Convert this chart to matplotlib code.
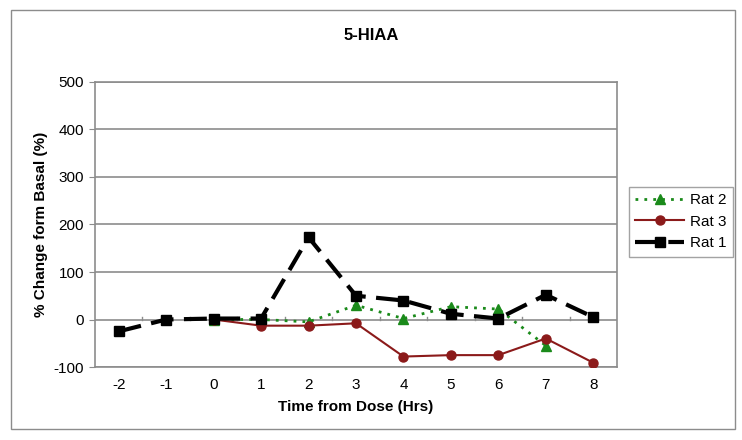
import matplotlib
matplotlib.use("Agg")
import matplotlib.pyplot as plt
from matplotlib.patches import Rectangle

plt.rcParams['font.family'] = ['Liberation Sans', 'DejaVu Sans']

hours = [-2, -1, 0, 1, 2, 3, 4, 5, 6, 7, 8]
rat1_x = [-2, -1, 0, 1, 2, 3, 4, 5, 6, 7, 8]
rat1 = [-25, 0, 2, 2, 173, 50, 40, 12, 2, 52, 5]
rat2_x = [0, 1, 2, 3, 4, 5, 6, 7]
rat2 = [0, 0, -5, 30, 2, 27, 22, -55]
rat3_x = [0, 1, 2, 3, 4, 5, 6, 7, 8]
rat3 = [0, -13, -13, -8, -78, -75, -75, -40, -91]
yticks = [-100, 0, 100, 200, 300, 400, 500]

W, H = 742, 440
fig = plt.figure(figsize=(W / 100, H / 100), dpi=100)
ax = fig.add_axes([95 / W, 1 - 367 / H, (617 - 95) / W, (367 - 82) / H])

# outer chart border
fig.patches.append(Rectangle((11 / W, 1 - 429 / H), (735 - 11) / W, (429 - 10) / H,
                             transform=fig.transFigure, fill=False,
                             edgecolor='#8c8c8c', linewidth=1.0))

for y in yticks:
    ax.axhline(y, color='#8c8c8c', linewidth=1.2, zorder=1)

ax.plot(rat2_x, rat2, linestyle=(0, (1, 2.2)), color='#1a8a1a', linewidth=2,
        marker='^', markersize=7, markerfacecolor='#1a8a1a', markeredgecolor='#1a8a1a',
        label='Rat 2', zorder=3)
ax.plot(rat3_x, rat3, linestyle='-', color='#8b1a1a', linewidth=1.5,
        marker='o', markersize=6.5, markerfacecolor='#8b1a1a', markeredgecolor='#8b1a1a',
        label='Rat 3', zorder=3)
ax.plot(rat1_x, rat1, linestyle=(0, (5.5, 2.5)), color='black', linewidth=3,
        marker='s', markersize=6.5, markerfacecolor='black', markeredgecolor='black',
        label='Rat 1', zorder=4)

ax.set_xlim(-2.5, 8.5)
ax.set_ylim(-100, 500)
ax.set_yticks(yticks)
ax.set_yticklabels([str(v) for v in yticks], fontsize=11)
ax.set_xticks(hours)
ax.set_xticklabels([str(v) for v in hours], fontsize=11)
ax.tick_params(axis='x', length=0, pad=8)
ax.tick_params(axis='y', length=4, color='#8c8c8c', pad=4)

# category boundary ticks on the zero line
for b in [h + 0.5 for h in hours[:-1]]:
    ax.plot([b, b], [0, 6], color='#8c8c8c', linewidth=1, zorder=1)

for s in ax.spines.values():
    s.set_color('#8c8c8c')
    s.set_linewidth(1.2)

ax.set_xlabel('Time from Dose (Hrs)', fontsize=11, fontweight='bold', labelpad=6)
ax.set_ylabel('% Change form Basal (%)', fontsize=11, fontweight='bold', labelpad=4)
fig.text(371 / W, 1 - 35 / H, '5-HIAA', fontsize=12, fontweight='bold',
         ha='center', va='center')

leg = ax.legend(loc='upper left', bbox_to_anchor=(629 / W, 1 - 187 / H),
                bbox_transform=fig.transFigure, fontsize=11, frameon=True,
                fancybox=False, edgecolor='#8c8c8c', handlelength=3.2,
                borderpad=0.4, labelspacing=0.5, handletextpad=0.4, borderaxespad=0)
leg.get_frame().set_linewidth(1.0)

fig.savefig('out.png', dpi=100)
